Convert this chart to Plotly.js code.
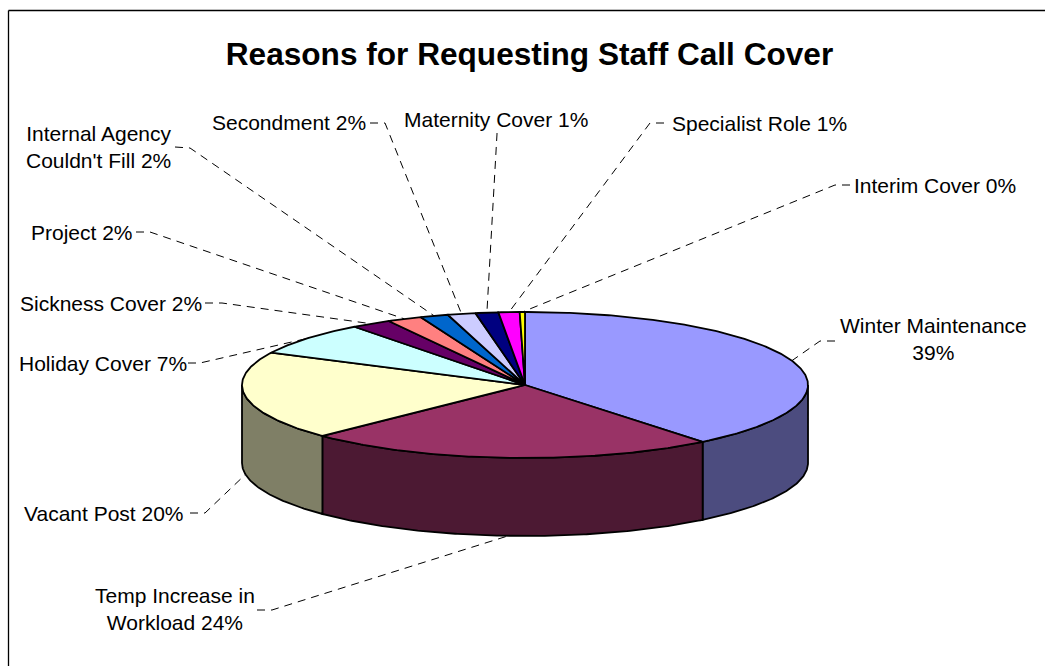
<!DOCTYPE html>
<html>
<head>
<meta charset="utf-8">
<script src="https://cdn.plot.ly/plotly-3.0.1.min.js"></script>
<style>html,body{margin:0;padding:0;background:#fff}#chart{width:1045px;height:666px}</style>
</head>
<body>
<div id="chart"></div>
<script>
// Reasons for requesting staff call cover: share of requests, clockwise from 12 o'clock
const reasons = ["Winter Maintenance","Temp Increase in Workload","Vacant Post","Holiday Cover","Sickness Cover","Project","Internal Agency Couldn't Fill","Secondment","Maternity Cover","Specialist Role","Interim Cover"];
const shares  = [39.2, 23.5, 19.6, 7.4, 2.3, 2.0, 1.6, 1.6, 1.3, 1.2, 0.3];
const topColours  = ["#9999FF","#993366","#FFFFCC","#CCFFFF","#660066","#FF8080","#0066CC","#CCCCFF","#000080","#FF00FF","#FFFF00"];
const sideColours = ["#4C4C7F","#4C1933","#7F7F66"];

// Label text lines: the percentage is appended to the last line
const labelLines = [["Winter Maintenance"],["Temp Increase in","Workload"],["Vacant Post"],["Holiday Cover"],["Sickness Cover"],["Project"],["Internal Agency","Couldn't Fill"],["Secondment"],["Maternity Cover"],["Specialist Role"],["Interim Cover"]];
// Label placement on the page: centre point, and the leader's elbow
const labelX   = [933, 174.5, 104, 102.5, 110.5, 81.5, 98.5, 289, 496, 759.5, 935];
const labelY   = [339, 609, 513, 363, 303, 232, 147, 122, 119, 123, 185];
const elbowX   = [[835,820],[257,272],[190,205],[188,200],[205,222],[136,150],[175,190],[370,385],[497,497],[664,650],[850,835]];
const elbowY   = [[341,341],[610,610],[513,513],[363,363],[303,303],[232,232],[147,148],[123,123],[133,134],[123,123],[185,185]];

// Projection of the tilted disc on the page
const cx = 525, cy = 385, rx = 283, ry = 73, depth = 78;
const total = shares.reduce((a, b) => a + b, 0);
const px = a => cx + rx * Math.sin(a);
const py = (a, drop) => cy - ry * Math.cos(a) + (drop || 0);
const TURN = 2 * Math.PI;

function arc(from, to, drop) {
  const n = Math.max(2, Math.ceil(Math.abs(to - from) / 0.01));
  const xs = [], ys = [];
  for (let i = 0; i <= n; i++) {
    const a = from + (to - from) * i / n;
    xs.push(px(a)); ys.push(py(a, drop));
  }
  return {xs, ys};
}

const traces = [];
let acc = 0;
const spans = shares.map(v => { const s = [acc / total * TURN, (acc + v) / total * TURN]; acc += v; return s; });

// Leader lines sit underneath the disc and end on the slice's visible edge
spans.forEach((s, i) => {
  const mid = (s[0] + s[1]) / 2;
  const front = Math.cos(mid) < 0;
  const endX = px(mid), endY = py(mid, front ? depth : 0);
  traces.push({type:"scatter", mode:"lines", x:[...elbowX[i], endX], y:[...elbowY[i], endY],
    line:{color:"#000", width:1, dash:"8px,6px"}, hoverinfo:"skip"});
});

// Rim: only the part of each slice facing the viewer (a quarter to three quarters of a turn)
spans.forEach((s, i) => {
  const from = Math.max(s[0], TURN / 4), to = Math.min(s[1], 3 * TURN / 4);
  if (from >= to) return;
  const top = arc(from, to, 0), bottom = arc(to, from, depth);
  traces.push({type:"scatter", mode:"lines", fill:"toself", fillcolor:sideColours[i],
    x:[...top.xs, ...bottom.xs, top.xs[0]], y:[...top.ys, ...bottom.ys, top.ys[0]],
    line:{color:"#000", width:1.8}, hoverinfo:"skip"});
});

// Top face slices
spans.forEach((s, i) => {
  const edge = arc(s[0], s[1], 0);
  traces.push({type:"scatter", mode:"lines", fill:"toself", fillcolor:topColours[i], name:reasons[i],
    x:[cx, ...edge.xs, cx], y:[cy, ...edge.ys, cy],
    line:{color:"#000", width:1.8}, text:shares[i] + "%", hoverinfo:"name+text"});
});

const labelFont = {family:"'Liberation Sans', Arial, sans-serif", size:21, color:"#000"};
const annotations = reasons.map((r, i) => {
  const lines = labelLines[i].slice();
  const pct = Math.round(shares[i]) + "%";
  if (i === 0) lines.push(pct); else lines[lines.length - 1] += " " + pct;
  return {x:labelX[i], y:labelY[i], xref:"x", yref:"y", text:lines.join("<br>"), showarrow:false,
    xanchor:"center", yanchor:"middle", align:"center", font:labelFont};
});

const layout = {
  width:1045, height:666, margin:{l:0,r:0,t:0,b:0}, paper_bgcolor:"#fff", plot_bgcolor:"#fff", showlegend:false,
  xaxis:{range:[0,1045], visible:false, fixedrange:true},
  yaxis:{range:[666,0], visible:false, fixedrange:true},
  title:{text:"<b>Reasons for Requesting Staff Call Cover</b>", x:529.5/1045, xanchor:"center", y:1-54/666, yanchor:"middle",
         font:{family:"'Liberation Sans', Arial, sans-serif", size:31.6, color:"#000"}},
  // Frame: top and left rules only
  shapes:[
    {type:"line", xref:"x", yref:"y", x0:8.5, x1:1045, y0:10.5, y1:10.5, line:{color:"#000", width:1.3}},
    {type:"line", xref:"x", yref:"y", x0:8.5, x1:8.5, y0:10.5, y1:666, line:{color:"#000", width:1.3}}
  ],
  annotations
};
Plotly.newPlot("chart", traces, layout, {displayModeBar:false});
</script>
</body>
</html>
